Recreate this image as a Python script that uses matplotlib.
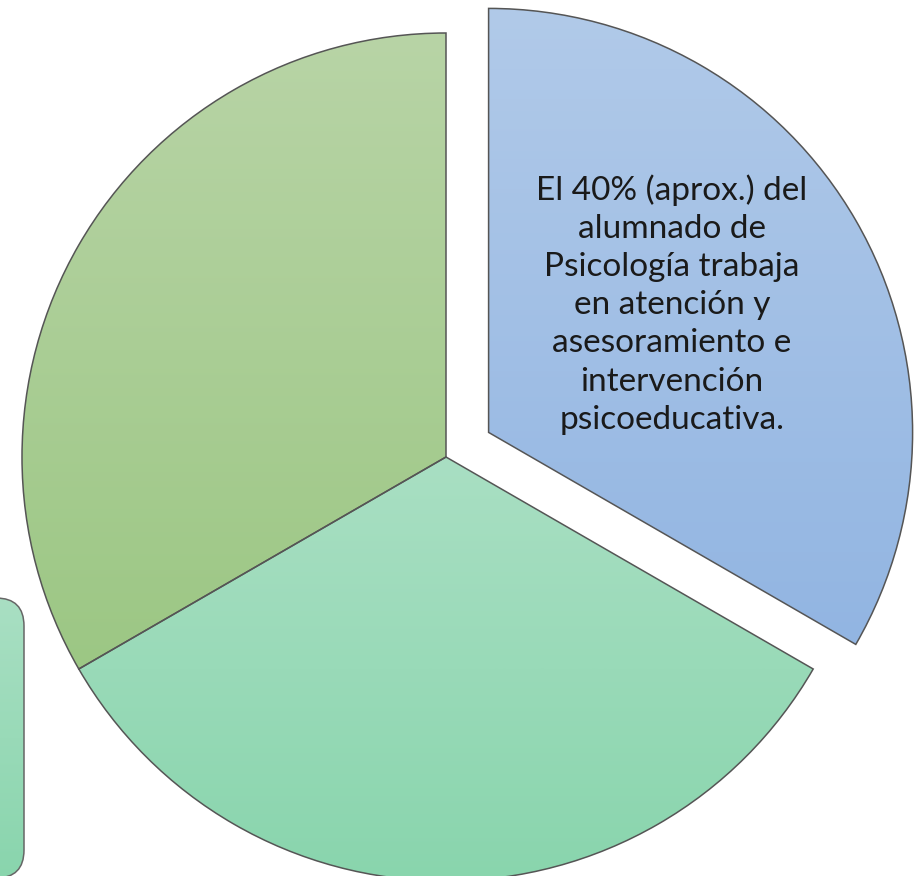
import numpy as np
import matplotlib.pyplot as plt
from matplotlib.patches import FancyBboxPatch
from matplotlib.colors import LinearSegmentedColormap

# data: three equal slices, only the first carries a label
sizes = [1, 1, 1]
explode_frac = [0.116, 0, 0]
label_text = ("El 40% (aprox.) del\nalumnado de\nPsicología trabaja\nen atención y\n"
              "asesoramiento e\nintervención\npsicoeducativa.")
grad_top = ["#b1cae9", "#a9dfc3", "#b8d4a6"]
grad_bottom = ["#92b5e2", "#89d5ad", "#9cc784"]

W, H = 921, 876
fig = plt.figure(figsize=(W / 100, H / 100), dpi=100)
ax = fig.add_axes([0, 0, 1, 1])

cx, cy, r = 446, H - 457, 424
# pie's explode is in data units, so scale by the radius
wedges, _ = ax.pie(sizes, explode=[e * r for e in explode_frac], startangle=90,
                   counterclock=False, center=(cx, cy), radius=r,
                   wedgeprops=dict(edgecolor="#555555", linewidth=1.1))


def gradient_fill(patch, top, bottom, zorder):
    bb = patch.get_path().get_extents(patch.get_transform())
    bb = ax.transData.inverted().transform(bb.get_points())
    cmap = LinearSegmentedColormap.from_list("g", [top, bottom])
    grad = np.linspace(0, 1, 256).reshape(-1, 1)
    im = ax.imshow(grad, cmap=cmap, aspect="auto",
                   extent=[bb[0, 0], bb[1, 0], bb[0, 1], bb[1, 1]],
                   origin="upper", zorder=zorder)
    im.set_clip_path(patch)
    patch.set_facecolor("none")
    patch.set_zorder(zorder + 0.5)


for w, t, b in zip(wedges, grad_top, grad_bottom):
    gradient_fill(w, t, b, 1)

# partial rounded box on the left edge
box = FancyBboxPatch((-60, H - 878), 84, 280, boxstyle="round,pad=0,rounding_size=28",
                     edgecolor="#666666", linewidth=1.1, facecolor="none")
ax.add_patch(box)
gradient_fill(box, "#a9dfc3", "#89d5ad", 1)

ax.text(672, H - 304.5, label_text, ha="center", va="center", fontsize=24,
        family="Lato", color="#1a1a1a", linespacing=1.34, zorder=5)

ax.set_xlim(0, W)
ax.set_ylim(0, H)
ax.set_aspect("auto")
ax.axis("off")
fig.savefig("out.png", dpi=100)
